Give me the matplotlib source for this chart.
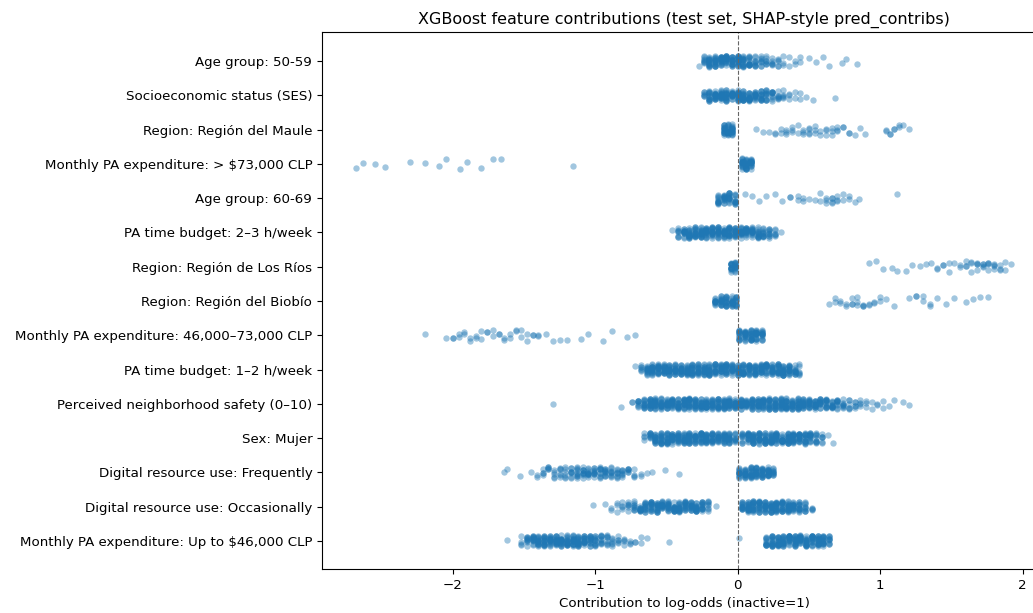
import numpy as np
import matplotlib
matplotlib.use("Agg")
import matplotlib.pyplot as plt

features = [
    "Age group: 50-59",
    "Socioeconomic status (SES)",
    "Region: Región del Maule",
    "Monthly PA expenditure: > $73,000 CLP",
    "Age group: 60-69",
    "PA time budget: 2–3 h/week",
    "Region: Región de Los Ríos",
    "Region: Región del Biobío",
    "Monthly PA expenditure: 46,000–73,000 CLP",
    "PA time budget: 1–2 h/week",
    "Perceived neighborhood safety (0–10)",
    "Sex: Mujer",
    "Digital resource use: Frequently",
    "Digital resource use: Occasionally",
    "Monthly PA expenditure: Up to $46,000 CLP",
]

# contribution values, with how many points sit at each value
age5059_x = [-0.27, -0.24, -0.20, -0.16, -0.12, -0.08, -0.04, 0.00, 0.04, 0.08, 0.12, 0.16, 0.20,
             0.24, 0.28, 0.32, 0.36, 0.40, 0.44, 0.50, 0.55, 0.60, 0.64, 0.73, 0.76, 0.84]
age5059_n = [1, 8, 16, 18, 18, 18, 18, 18, 16, 14, 10, 8, 7, 6, 5, 3, 2, 2, 2, 1, 1, 1, 1, 1, 1, 1]

ses_x = [-0.24, -0.20, -0.16, -0.12, -0.08, -0.04, 0.00, 0.04, 0.08, 0.12, 0.16, 0.20, 0.24,
         0.28, 0.32, 0.36, 0.40, 0.44, 0.48, 0.53, 0.68]
ses_n = [6, 14, 18, 18, 18, 18, 18, 18, 18, 16, 14, 12, 10, 7, 5, 3, 2, 2, 1, 1, 1]

maule_x = [-0.10, -0.07, -0.04, 0.13, 0.18, 0.22, 0.26, 0.30, 0.34, 0.38, 0.42, 0.46, 0.50, 0.54,
           0.58, 0.62, 0.66, 0.70, 0.74, 0.78, 0.82, 0.86, 0.89, 1.04, 1.07, 1.10, 1.13, 1.16, 1.20]
maule_n = [16, 18, 16, 1, 1, 1, 2, 2, 3, 3, 2, 3, 4, 3, 2, 3, 3, 3, 2, 2, 1, 1, 1, 2, 2, 2, 2, 1, 1]

exp73_x = [-2.68, -2.63, -2.55, -2.48, -2.30, -2.20, -2.10, -2.05, -1.95, -1.90, -1.80, -1.72,
           -1.66, -1.16, 0.03, 0.06, 0.09]
exp73_n = [1, 1, 1, 1, 1, 1, 1, 1, 1, 1, 1, 1, 1, 1, 16, 18, 16]

age6069_x = [-0.14, -0.10, -0.06, -0.02, 0.05, 0.10, 0.15, 0.20, 0.26, 0.31, 0.37, 0.42, 0.46,
             0.50, 0.54, 0.58, 0.62, 0.66, 0.70, 0.74, 0.78, 0.82, 0.85, 1.12]
age6069_n = [12, 14, 14, 12, 1, 1, 1, 1, 1, 1, 2, 2, 2, 1, 1, 2, 3, 4, 3, 2, 2, 1, 1, 1]

pa23_x = [-0.46, -0.42, -0.38, -0.34, -0.30, -0.26, -0.22, -0.18, -0.14, -0.10, -0.06, -0.02,
          0.02, 0.06, 0.10, 0.14, 0.18, 0.22, 0.26, 0.30]
pa23_n = [1, 8, 14, 18, 18, 18, 18, 18, 18, 18, 18, 18, 18, 18, 16, 14, 12, 10, 6, 1]

rios_x = [-0.05, -0.02, 0.92, 0.97, 1.02, 1.08, 1.12, 1.18, 1.22, 1.28, 1.32, 1.36, 1.40, 1.44,
          1.48, 1.52, 1.56, 1.60, 1.64, 1.68, 1.72, 1.76, 1.80, 1.84, 1.88, 1.92]
rios_n = [14, 14, 1, 1, 1, 1, 1, 1, 1, 1, 1, 1, 2, 2, 2, 1, 2, 3, 3, 4, 4, 4, 4, 3, 2, 1]

biobio_x = [-0.16, -0.12, -0.08, -0.04, -0.01, 0.64, 0.68, 0.72, 0.76, 0.80, 0.84, 0.88, 0.92,
            0.96, 1.00, 1.04, 1.10, 1.20, 1.25, 1.30, 1.35, 1.40, 1.46, 1.52, 1.60, 1.65, 1.70,
            1.76]
biobio_n = [12, 16, 16, 16, 12, 1, 2, 2, 2, 3, 3, 3, 2, 2, 2, 1, 1, 1, 2, 2, 2, 1, 1, 1, 1, 1, 1, 1]

exp4673_x = [-2.20, -2.05, -2.00, -1.96, -1.92, -1.88, -1.84, -1.80, -1.76, -1.72, -1.68, -1.64,
             -1.60, -1.56, -1.52, -1.48, -1.44, -1.40, -1.35, -1.30, -1.25, -1.20, -1.10, -1.05,
             -0.95, -0.88, -0.78, -0.72, 0.01, 0.05, 0.09, 0.13, 0.17]
exp4673_n = [1, 1, 2, 2, 2, 2, 2, 2, 2, 2, 2, 2, 2, 2, 2, 2, 2, 2, 1, 1, 1, 1, 1, 1, 1, 1, 1, 1,
             14, 18, 18, 18, 14]

pa12_x = [-0.72, -0.68, -0.64, -0.60, -0.56, -0.52, -0.48, -0.44, -0.40, -0.36, -0.32, -0.28,
          -0.24, -0.20, -0.16, -0.12, -0.08, -0.04, 0.00, 0.04, 0.08, 0.12, 0.16, 0.20, 0.24,
          0.28, 0.32, 0.36, 0.40, 0.43]
pa12_n = [1, 6, 14, 18, 18, 18, 18, 18, 18, 18, 18, 18, 18, 18, 18, 18, 18, 18, 18, 18, 18, 18,
          18, 18, 18, 18, 18, 16, 12, 6]

safety_x = [-1.30, -0.82, -0.74, -0.70, -0.66, -0.62, -0.58, -0.54, -0.50, -0.46, -0.42, -0.38,
            -0.34, -0.30, -0.26, -0.22, -0.18, -0.14, -0.10, -0.06, -0.02, 0.02, 0.06, 0.10,
            0.14, 0.18, 0.22, 0.26, 0.30, 0.34, 0.38, 0.42, 0.46, 0.50, 0.54, 0.58, 0.62, 0.66,
            0.70, 0.74, 0.78, 0.82, 0.86, 0.90, 0.94, 0.98, 1.02, 1.06, 1.10, 1.16, 1.20]
safety_n = [1, 1, 2, 8, 14, 18, 18, 18, 18, 18, 18, 18, 18, 18, 18, 18, 18, 18, 18, 18, 18, 18,
            18, 18, 18, 18, 18, 18, 18, 18, 18, 18, 18, 16, 16, 14, 14, 12, 10, 8, 6, 5, 4, 3, 2,
            2, 2, 1, 1, 1, 1]

sex_x = [-0.66, -0.62, -0.58, -0.54, -0.50, -0.46, -0.42, -0.38, -0.34, -0.30, -0.26, -0.22,
         -0.18, -0.14, -0.10, -0.06, -0.02, 0.03, 0.07, 0.11, 0.15, 0.19, 0.23, 0.27, 0.31, 0.35,
         0.39, 0.43, 0.47, 0.51, 0.55, 0.59, 0.63, 0.67]
sex_n = [4, 10, 16, 18, 18, 18, 18, 18, 18, 18, 18, 18, 18, 18, 18, 16, 10, 10, 16, 18, 18, 18,
         18, 18, 18, 18, 18, 18, 16, 14, 10, 6, 1, 1]

digfreq_x = [-1.64, -1.62, -1.53, -1.45, -1.41, -1.37, -1.33, -1.29, -1.25, -1.21, -1.17, -1.13,
             -1.09, -1.05, -1.01, -0.97, -0.93, -0.89, -0.85, -0.81, -0.77, -0.73, -0.68, -0.64,
             -0.60, -0.51, -0.41, 0.01, 0.05, 0.09, 0.13, 0.17, 0.21, 0.25]
digfreq_n = [1, 1, 1, 1, 2, 4, 5, 5, 6, 6, 8, 10, 10, 10, 10, 10, 10, 9, 8, 7, 6, 4, 2, 1, 1, 1,
             1, 14, 18, 18, 18, 18, 16, 10]

digocc_x = [-1.02, -0.93, -0.89, -0.85, -0.81, -0.77, -0.73, -0.69, -0.65, -0.61, -0.57, -0.53,
            -0.49, -0.45, -0.41, -0.37, -0.33, -0.29, -0.25, -0.21, -0.15, 0.03, 0.07, 0.11,
            0.15, 0.19, 0.23, 0.27, 0.31, 0.35, 0.39, 0.43, 0.47, 0.52]
digocc_n = [1, 1, 2, 3, 4, 6, 9, 12, 14, 16, 16, 16, 16, 16, 16, 16, 16, 16, 14, 8, 1, 14, 18,
            18, 18, 18, 18, 18, 18, 18, 16, 14, 10, 4]

exp46_x = [-1.62, -1.52, -1.48, -1.44, -1.40, -1.36, -1.32, -1.28, -1.24, -1.20, -1.16, -1.12,
           -1.08, -1.04, -1.00, -0.96, -0.92, -0.88, -0.84, -0.80, -0.76, -0.72, -0.68, -0.64,
           -0.48, 0.01, 0.20, 0.24, 0.28, 0.32, 0.36, 0.40, 0.44, 0.48, 0.52, 0.56, 0.60, 0.64]
exp46_n = [1, 4, 10, 14, 16, 18, 18, 18, 18, 18, 18, 18, 16, 14, 12, 10, 8, 6, 5, 4, 3, 2, 2, 1,
           1, 1, 12, 18, 18, 18, 18, 18, 18, 18, 18, 18, 16, 10]

rows_x = [age5059_x, ses_x, maule_x, exp73_x, age6069_x, pa23_x, rios_x, biobio_x, exp4673_x,
          pa12_x, safety_x, sex_x, digfreq_x, digocc_x, exp46_x]
rows_n = [age5059_n, ses_n, maule_n, exp73_n, age6069_n, pa23_n, rios_n, biobio_n, exp4673_n,
          pa12_n, safety_n, sex_n, digfreq_n, digocc_n, exp46_n]

fig = plt.figure(figsize=(10.33, 6.13), dpi=100)
ax = fig.add_axes([322 / 1033, 1 - 569 / 613, (1046 - 322) / 1033, (569 - 32) / 613])

# deterministic vertical jitter inside each category row (hash-like sequence)
k = 0
px, py = [], []
for i, (xs, ns) in enumerate(zip(rows_x, rows_n)):
    for x, n in zip(xs, ns):
        for _ in range(n):
            k += 1
            h = (np.sin(k * 12.9898) * 43758.5453) % 1.0
            px.append(x)
            py.append(i + (h - 0.5) * 0.32)

ax.scatter(px, py, s=21, color="#1f77b4", alpha=0.42, linewidths=0)
ax.axvline(0, color="0.4", linestyle="--", linewidth=0.8)

ax.set_yticks(range(len(features)))
ax.set_yticklabels(features)
ax.set_ylim(len(features) - 1 + 0.82, -0.85)
ax.set_xlim(-2.92, (1046 - 738) / 142.3)
ax.set_xticks([-2, -1, 0, 1, 2])
ax.tick_params(labelsize=9.6)
ax.set_xlabel("Contribution to log-odds (inactive=1)", fontsize=9.6)
ax.set_title("XGBoost feature contributions (test set, SHAP-style pred_contribs)", fontsize=11.5)

fig.savefig("out.png", dpi=100)
